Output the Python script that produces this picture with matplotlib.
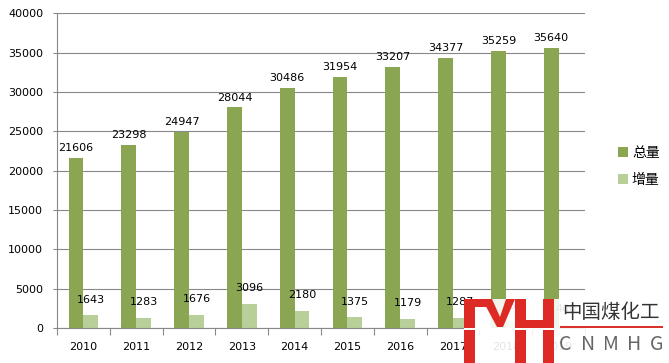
import numpy as np
import matplotlib.pyplot as plt
from matplotlib.patches import Rectangle, Polygon

years = ["2010", "2011", "2012", "2013", "2014", "2015", "2016", "2017", "2018", "2019"]
total = [21606, 23298, 24947, 28044, 30486, 31954, 33207, 34377, 35259, 35640]
increase = [1643, 1283, 1676, 3096, 2180, 1375, 1179, 1287, 859, 400]
series_names = ["总量", "增量"]
yticks = [0, 5000, 10000, 15000, 20000, 25000, 30000, 35000, 40000]

W, H = 669, 363
CJK = ["Noto Sans CJK SC", "DejaVu Sans"]
plt.rcParams["font.family"] = ["DejaVu Sans", "Noto Sans CJK SC"]

fig = plt.figure(figsize=(W / 100, H / 100), dpi=100)
ax = fig.add_axes([57 / W, 1 - 328 / H, (585 - 57) / W, (328 - 13.3) / H])

x = np.arange(len(years))
bw = 0.28
b1 = ax.bar(x - bw / 2, total, bw, color="#8AA652", label=series_names[0], zorder=2)
b2 = ax.bar(x + bw / 2, increase, bw, color="#B9CF99", label=series_names[1], zorder=2)
ax.bar_label(b1, padding=3.5, fontsize=8)
ax.bar_label(b2, padding=7.5, fontsize=8)

ax.set_xlim(-0.5, len(years) - 0.5)
ax.set_ylim(0, 40000)
ax.set_yticks(yticks)
ax.set_xticks(x)
ax.set_xticklabels(years)
ax.set_xticks(np.arange(len(years) + 1) - 0.5, minor=True)
ax.tick_params(axis="x", which="major", length=0, pad=10, labelsize=8)
ax.tick_params(axis="x", which="minor", length=5, color="#888888", width=0.8)
ax.tick_params(axis="y", length=3, color="#888888", width=0.8, pad=7, labelsize=8)
ax.grid(axis="y", color="#888888", linewidth=0.8, zorder=1)
for s in ["top", "right"]:
    ax.spines[s].set_visible(False)
for s in ["left", "bottom"]:
    ax.spines[s].set_color("#888888")
    ax.spines[s].set_linewidth(0.8)

fig.legend(loc="upper left", bbox_to_anchor=(618 / W, 1 - 146 / H), frameon=False,
           borderpad=0, borderaxespad=0,
           prop={"family": CJK, "size": 10}, handlelength=0.7, handleheight=0.7,
           handletextpad=0.3, labelspacing=0.95)


def px(xp, yp):
    return (xp / W, 1 - yp / H)


# watermark in the lower right corner
fig.patches.append(Rectangle(px(464, 363), (W - 464) / W, (363 - 299) / H,
                             transform=fig.transFigure, facecolor="white", alpha=0.9,
                             edgecolor="none", zorder=5))
red = "#DE2A24"
rects = [(464, 299, 475, 363), (464, 299, 490, 307), (515, 299, 526, 363),
         (526, 320, 543, 328), (543, 299, 554, 363)]
for x0, y0, x1, y1 in rects:
    fig.patches.append(Rectangle(px(x0, y1), (x1 - x0) / W, (y1 - y0) / H,
                                 transform=fig.transFigure, facecolor=red,
                                 edgecolor="none", zorder=6))
v_shape = [(482, 299), (492, 299), (500, 317), (506, 299), (515, 299), (503, 327), (497, 327)]
fig.patches.append(Polygon([px(a, b) for a, b in v_shape], closed=True,
                           transform=fig.transFigure, facecolor=red, edgecolor="none", zorder=6))
fig.patches.append(Rectangle(px(464, 329.5), (554 - 464) / W, 1.5 / H,
                             transform=fig.transFigure, facecolor="white",
                             edgecolor="none", zorder=7))
fig.text(*px(611, 313), "中国煤化工", family=CJK, fontsize=14, color="#333333",
         ha="center", va="center", zorder=8)
fig.patches.append(Rectangle(px(560, 328), (663 - 560) / W, 2 / H,
                             transform=fig.transFigure, facecolor="#D9332C",
                             edgecolor="none", zorder=8))
for i, ch in enumerate("CNMHG"):
    fig.text(*px(565.5 + i * 22.75, 345), ch, family=CJK, fontsize=14, color="#666666",
             ha="center", va="center", zorder=8)

fig.savefig("out.png", dpi=100)
